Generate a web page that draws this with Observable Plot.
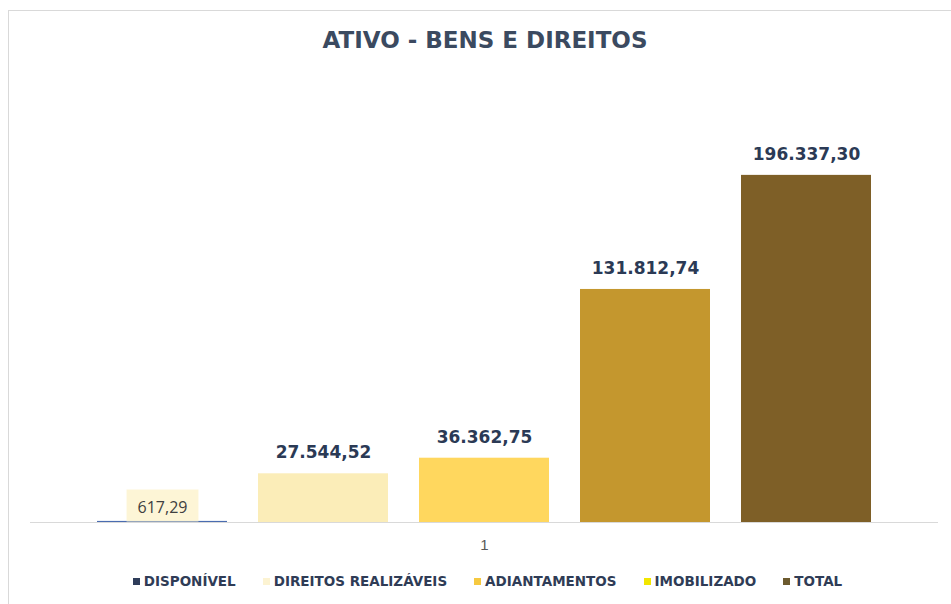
<!DOCTYPE html>
<html>
<head>
<meta charset="utf-8">
<script src="https://cdn.jsdelivr.net/npm/d3@7"></script>
<script src="https://cdn.jsdelivr.net/npm/@observablehq/plot@0.6"></script>
<style>
  html, body { margin: 0; padding: 0; background: #fff; }
  #wrap { position: relative; width: 951px; height: 604px; overflow: hidden; font-family: "DejaVu Sans", sans-serif; }
  #frame { position: absolute; left: 8px; top: 10px; width: 960px; height: 620px; border: 1px solid #d9d9d9; box-sizing: border-box; }
  #title { position: absolute; left: 0; width: 970px; top: 27px; text-align: center; font-weight: bold; font-size: 23px; color: #3b4a60; }
  #chart { position: absolute; left: 0; top: 0; }
  #legend { position: absolute; left: 0; width: 975px; top: 573px; display: flex; justify-content: center; gap: 27px; font-weight: bold; font-size: 13.5px; color: #2f3c56; }
  #legend span.item { display: flex; align-items: center; }
  #legend span.sw { display: inline-block; width: 7px; height: 7px; margin-right: 4px; }
</style>
</head>
<body>
<div id="wrap">
  <div id="frame"></div>
  <div id="chart"></div>
  <div id="title">ATIVO - BENS E DIREITOS</div>
  <div id="legend"></div>
</div>
<script>
const series = ["DISPONÍVEL", "DIREITOS REALIZÁVEIS", "ADIANTAMENTOS", "IMOBILIZADO", "TOTAL"];
const values = [617.29, 27544.52, 36362.75, 131812.74, 196337.30];
const barColors = ["#4a6cb0", "#fbedb8", "#ffd75e", "#c4972e", "#7e5f27"];
const legendColors = ["#2f3d5a", "#fcf3d2", "#f6c940", "#f2e600", "#6c5a2e"];
const category = ["1"];

const data = series.map((s, i) => ({series: s, value: values[i]}));

function fmt(v) {
  const [ip, dp] = v.toFixed(2).split(".");
  return ip.replace(/\B(?=(\d{3})+(?!\d))/g, ".") + "," + dp;
}

const small = data.filter(d => d.value < 5000);
const big = data.filter(d => d.value >= 5000);

const chart = Plot.plot({
  width: 951,
  height: 604,
  marginLeft: 30,
  marginRight: 13,
  marginTop: 80,
  marginBottom: 82,
  style: {background: "transparent", overflow: "visible"},
  x: {type: "band", domain: series, paddingInner: 0.195, paddingOuter: 0.415, axis: null},
  y: {domain: [0, 250000], axis: null},
  color: {domain: series, range: barColors},
  marks: [
    Plot.barY(data, {x: "series", y: "value", fill: "series"}),
    Plot.ruleY([0], {stroke: "#d9d9d9", strokeWidth: 1.2}),
    Plot.text(big, {x: "series", y: "value", text: d => fmt(d.value), dy: -21, fontSize: 17, fontWeight: "bold", fill: "#2b3a55", fontFamily: "DejaVu Sans"}),
    Plot.text(small, {x: "series", y: "value", text: d => fmt(d.value), dy: -14, fontSize: 16, fill: "#404040", fontFamily: "Open Sans", className: "smalllabel"}),
    Plot.text(category, {frameAnchor: "bottom", text: d => d, dy: 27, fontSize: 15, fill: "#595959", fontFamily: "Liberation Sans"})
  ]
});
document.getElementById("chart").appendChild(chart);

// pale background box behind the small label
d3.select(chart).selectAll("g.smalllabel text").each(function() {
  const b = this.getBBox();
  d3.select(this.parentNode).insert("rect", () => this)
    .attr("transform", this.getAttribute("transform"))
    .attr("x", b.x - 11).attr("y", b.y - 6)
    .attr("width", b.width + 22).attr("height", b.height + 10)
    .attr("fill", "#fdf3cc").attr("fill-opacity", 0.8);
});

const legend = d3.select("#legend");
series.forEach((s, i) => {
  const it = legend.append("span").attr("class", "item");
  it.append("span").attr("class", "sw").style("background", legendColors[i]);
  it.append("span").text(s);
});
</script>
</body>
</html>
